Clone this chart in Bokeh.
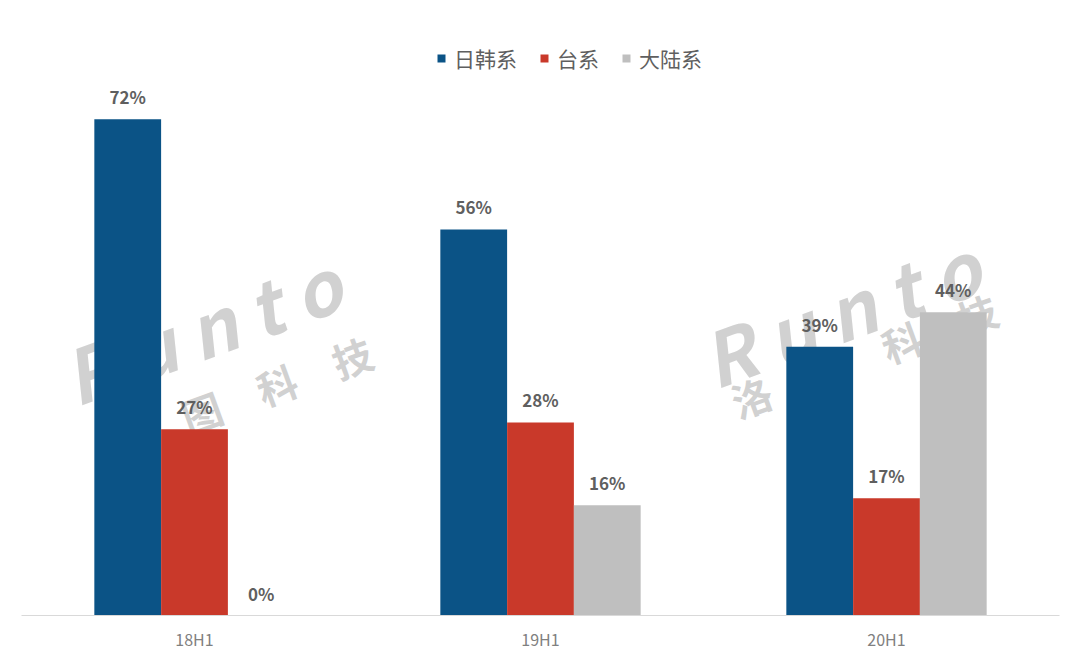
from bokeh.plotting import figure
from bokeh.models import ColumnDataSource, FactorRange, Range1d, Label, Legend
from bokeh.transform import dodge
from bokeh.core.properties import value
from bokeh.embed import file_html
from bokeh.resources import INLINE

categories = ["18H1", "19H1", "20H1"]
series_names = ["日韩系", "台系", "大陆系"]
jk_values = [72, 56, 39]
tw_values = [27, 28, 17]
cn_values = [0, 16, 44]
colors = ["#0B5386", "#C9392A", "#BFBFBF"]

FONT = "Noto Sans CJK SC"

src = ColumnDataSource(dict(
    cat=categories,
    jk=jk_values, tw=tw_values, cn=cn_values,
    jk_t=[f"{v}%" for v in jk_values],
    tw_t=[f"{v}%" for v in tw_values],
    cn_t=[f"{v}%" for v in cn_values],
))

p = figure(
    x_range=FactorRange(*categories),
    y_range=Range1d(0, 83.7),
    width=1064, height=657,
    output_backend="svg", toolbar_location=None,
    min_border_left=21, min_border_right=5,
    min_border_top=38, min_border_bottom=42,
)
p.outline_line_color = None
p.background_fill_color = "white"
p.xgrid.visible = False
p.ygrid.visible = False
p.yaxis.visible = False

# watermark (behind bars)
wm_color = "#BDBDBD"
for (xr, yr, xc, yc) in [(2.025, 29.8, 2.084, 26.8), (0.178, 27.3, 0.278, 20.6)]:
    p.add_layout(Label(x=xr, y=yr, text="R u n t o", angle=0.35,
                       text_font=FONT, text_font_size="74px",
                       text_font_style="bold italic", text_color=wm_color,
                       text_alpha=0.7, level="underlay"))
    p.add_layout(Label(x=xc, y=yc, text="洛\u3000图\u3000科\u3000技", angle=0.35,
                       text_font=FONT, text_font_size="40px",
                       text_font_style="bold", text_color=wm_color,
                       text_alpha=0.7, level="underlay"))

w = 0.193
offsets = [-w, 0.0, w]
fields = ["jk", "tw", "cn"]
renderers = []
for f, off, c in zip(fields, offsets, colors):
    r = p.vbar(x=dodge("cat", off, range=p.x_range), top=f, width=w,
               source=src, fill_color=c, line_color=None)
    renderers.append(r)
    p.text(x=dodge("cat", off, range=p.x_range), y=f, text=f + "_t",
           source=src, text_align="center", text_baseline="bottom",
           y_offset=-10, text_font=value(FONT), text_font_size="17px",
           text_font_style="bold", text_color="#5f5f5f")

legend = Legend(items=[(n, [r]) for n, r in zip(series_names, renderers)],
                location=(415, 542), orientation="horizontal",
                glyph_width=10, glyph_height=10, label_standoff=8,
                spacing=22, label_text_font=FONT, label_text_font_size="21px",
                label_text_color="#5f5f5f", background_fill_alpha=0,
                border_line_color=None, padding=0, margin=0)
p.add_layout(legend)

ax = p.xaxis[0]
ax.axis_line_color = "#D9D9D9"
ax.axis_line_width = 1
ax.major_tick_line_color = None
ax.minor_tick_line_color = None
ax.major_tick_out = 0
ax.major_label_standoff = 11
ax.major_label_text_font = FONT
ax.major_label_text_font_size = "16px"
ax.major_label_text_color = "#808080"

open("out.html", "w").write(file_html(p, INLINE))
